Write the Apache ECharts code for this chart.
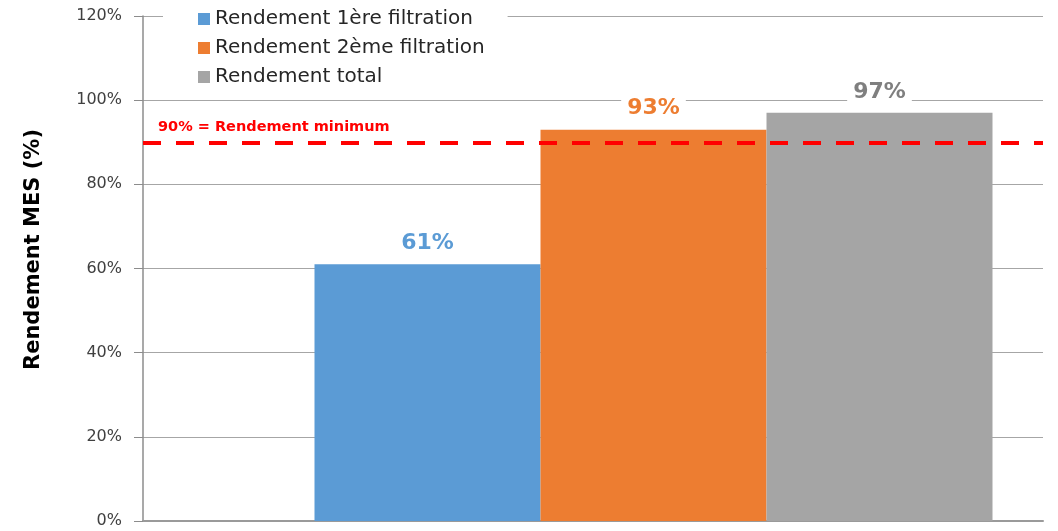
<!DOCTYPE html>
<html>
<head>
<meta charset="utf-8">
<script src="https://cdn.jsdelivr.net/npm/echarts@6/dist/echarts.min.js"></script>
<style>
  html, body { margin: 0; padding: 0; background: #fff; }
  #chart { width: 1058px; height: 531px; }
</style>
</head>
<body>
<div id="chart"></div>
<script>
// Rendement MES par étape de filtration
const categories = [''];
const seriesNames = ['Rendement 1ère filtration', 'Rendement 2ème filtration', 'Rendement total'];
const rendement1 = [61];
const rendement2 = [93];
const rendementTotal = [97];
const seuilMinimum = 90;
const seuilLabel = '90% = Rendement minimum';
const yTicks = { min: 0, max: 120, interval: 20 };

const FONT = '"DejaVu Sans", Verdana, sans-serif';
const colors = ['#5B9BD5', '#ED7D31', '#A5A5A5'];
const labelColors = ['#5B9BD5', '#ED7D31', '#7F7F7F'];

function barSeries(name, data, i) {
  return {
    name: name,
    type: 'bar',
    data: data,
    barWidth: 226,
    barGap: '0%',
    itemStyle: { color: colors[i] },
    label: {
      show: true,
      position: 'top',
      distance: 10,
      formatter: '{c}%',
      color: labelColors[i],
      fontFamily: FONT,
      fontWeight: 'bold',
      fontSize: 22,
      backgroundColor: '#fff',
      padding: [0, 6]
    }
  };
}

const chart = echarts.init(document.getElementById('chart'));
chart.setOption({
  animation: false,
  grid: { left: 143, right: 15, top: 16, bottom: 10 },
  legend: {
    data: seriesNames,
    orient: 'vertical',
    left: 163,
    top: 4,
    padding: [5, 23, 5, 35],
    backgroundColor: '#fff',
    itemWidth: 12,
    itemHeight: 12,
    itemGap: 9,
    icon: 'rect',
    textStyle: { fontFamily: FONT, fontSize: 20, lineHeight: 20, color: '#262626' }
  },
  xAxis: {
    type: 'category',
    data: categories,
    axisLine: { lineStyle: { color: '#9a9a9a', width: 2 } },
    axisTick: { show: false },
    axisLabel: { show: false }
  },
  yAxis: {
    type: 'value',
    min: yTicks.min,
    max: yTicks.max,
    interval: yTicks.interval,
    name: 'Rendement MES (%)',
    nameLocation: 'middle',
    nameGap: 99,
    nameRotate: 90,
    nameTextStyle: { fontFamily: FONT, fontWeight: 'bold', fontSize: 21, color: '#000', padding: [0, 0, 0, 38] },
    axisLine: { show: true, lineStyle: { color: '#8c8c8c', width: 1.5 } },
    axisTick: { show: true, length: 9, lineStyle: { color: '#8c8c8c' } },
    axisLabel: { formatter: '{value}%', fontFamily: FONT, fontSize: 16, color: '#404040', margin: 21 },
    splitLine: { lineStyle: { color: '#a6a6a6', width: 1.2 } }
  },
  series: [
    // empty leading slot that shifts the bar group within the category
    { type: 'bar', data: ['-'], barWidth: 121, barGap: '0%', silent: true },
    Object.assign(barSeries(seriesNames[0], rendement1, 0), {
      markLine: {
        silent: true,
        symbol: 'none',
        lineStyle: { color: '#FF0000', type: [18, 15], width: 4 },
        label: {
          show: true,
          position: 'insideStartTop',
          formatter: seuilLabel,
          color: '#FF0000',
          fontFamily: FONT,
          fontWeight: 'bold',
          fontSize: 14.5,
          distance: [15, 8]
        },
        data: [{ yAxis: seuilMinimum }]
      }
    }),
    barSeries(seriesNames[1], rendement2, 1),
    barSeries(seriesNames[2], rendementTotal, 2)
  ]
});
</script>
</body>
</html>
